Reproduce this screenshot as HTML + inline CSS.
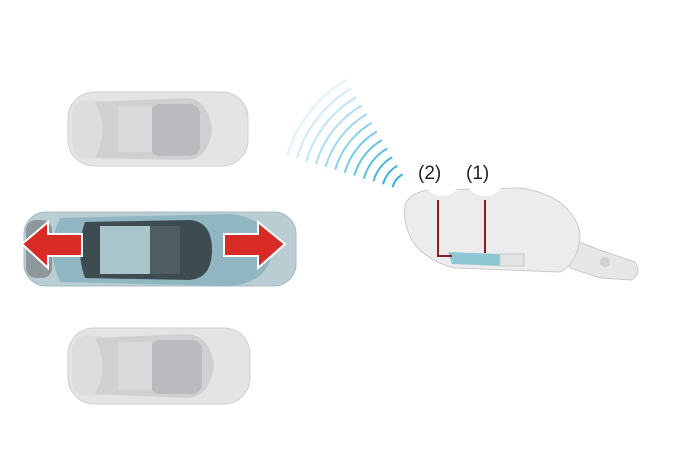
<!DOCTYPE html>
<html><head><style>body{margin:0;background:#fff}svg{display:block}</style></head><body>
<svg width="673" height="472" viewBox="0 0 673 472" xmlns="http://www.w3.org/2000/svg">
<!-- top car -->
<g>
<rect x="68" y="92" width="180" height="74" rx="26" fill="#e3e4e6" stroke="#cfd1d3"/>
<rect x="72" y="100" width="40" height="58" rx="14" fill="#dcdddf"/>
<path d="M95 102 L185 98 Q208 98 212 130 Q208 160 185 160 L95 158 Q110 130 95 102Z" fill="#cfd0d2"/>
<rect x="150" y="104" width="50" height="52" rx="10" fill="#b9bbbe"/>
<rect x="118" y="106" width="34" height="46" fill="#d8d9db"/>
</g>
<!-- middle car -->
<g>
<rect x="24" y="212" width="272" height="74" rx="22" fill="#b9cdd3" stroke="#a5bcc3"/>
<rect x="26" y="220" width="26" height="58" rx="10" fill="#8e979a"/>
<path d="M60 218 L230 214 Q270 218 272 250 Q270 282 230 286 L60 282 Q45 250 60 218Z" fill="#8fb6c1"/>
<path d="M85 222 L190 220 Q212 222 212 250 Q212 278 190 280 L85 278 Q75 250 85 222Z" fill="#3e4c51"/>
<rect x="100" y="226" width="50" height="48" fill="#a9c4cb"/>
<rect x="150" y="226" width="30" height="48" fill="#4e5d62"/>
<polygon points="22,244 48,222 48,234 82,234 82,256 48,256 48,268" fill="#d92b25" stroke="#fff" stroke-width="2"/>
<polygon points="285,244 258,222 258,234 224,234 224,256 258,256 258,268" fill="#d92b25" stroke="#fff" stroke-width="2"/>
</g>
<!-- bottom car -->
<g>
<rect x="68" y="328" width="182" height="76" rx="26" fill="#e3e4e6" stroke="#cfd1d3"/>
<rect x="72" y="336" width="40" height="60" rx="14" fill="#dcdddf"/>
<path d="M95 338 L185 334 Q210 334 214 366 Q210 398 185 398 L95 394 Q110 366 95 338Z" fill="#cfd0d2"/>
<rect x="150" y="340" width="52" height="54" rx="10" fill="#b9bbbe"/>
<rect x="118" y="342" width="34" height="48" fill="#d8d9db"/>
</g>
<!-- waves -->
<g fill="none" stroke-width="2" stroke-linecap="round">
<path d="M401.8 174.8 A20 20 0 0 0 392.8 186.3" stroke="#2fb0e0"/>
<path d="M396.6 166.2 A30 30 0 0 0 383.3 183.4" stroke="#38b3e1"/>
<path d="M391.5 157.6 A40 40 0 0 0 373.7 180.5" stroke="#45b8e3"/>
<path d="M386.4 149.0 A50 50 0 0 0 364.1 177.7" stroke="#55bde5"/>
<path d="M381.3 140.5 A60 60 0 0 0 354.5 174.8" stroke="#66c3e7"/>
<path d="M376.2 131.9 A70 70 0 0 0 344.9 171.9" stroke="#78c9ea"/>
<path d="M371.0 123.3 A80 80 0 0 0 335.4 169.0" stroke="#8ad0ec"/>
<path d="M365.9 114.7 A90 90 0 0 0 325.8 166.2" stroke="#9cd7ef"/>
<path d="M360.8 106.1 A100 100 0 0 0 316.2 163.3" stroke="#aedef2"/>
<path d="M355.7 97.5 A110 110 0 0 0 306.6 160.4" stroke="#bfe5f5"/>
<path d="M350.6 88.9 A120 120 0 0 0 297.0 157.6" stroke="#cfecf7"/>
<path d="M345.4 80.3 A130 130 0 0 0 287.5 154.7" stroke="#def2f9"/>
</g>
<!-- fob -->
<path d="M560 235 L600 250 L635 262 Q642 272 632 280 L600 278 L570 268Z" fill="#e6e7e8" stroke="#c8c9cb"/>
<circle cx="605" cy="262" r="5" fill="#d0d1d3"/>
<path d="M405 205 Q410 192 430 190 L520 188 Q570 195 580 232 Q580 262 560 272 L455 268 Q430 262 415 245 Q402 225 405 205Z" fill="#ececed" stroke="#c9cacc"/>
<path d="M448 252 L500 254 L500 266 L452 264Z" fill="#8fc6d3"/>
<rect x="500" y="254" width="24" height="12" fill="#e2e3e4" stroke="#c9cacc"/>
<circle cx="442" cy="176" r="20" fill="#fff"/>
<circle cx="485" cy="176" r="20" fill="#fff"/>
<path d="M438 200 L438 256 L452 256" fill="none" stroke="#8b1d1d" stroke-width="2"/>
<path d="M485 200 L485 253" fill="none" stroke="#8b1d1d" stroke-width="2"/>
<text x="418" y="179" font-family="Liberation Sans, sans-serif" font-size="19" fill="#222">(2)</text>
<text x="466" y="179" font-family="Liberation Sans, sans-serif" font-size="19" fill="#222">(1)</text>
</svg>
</body></html>
